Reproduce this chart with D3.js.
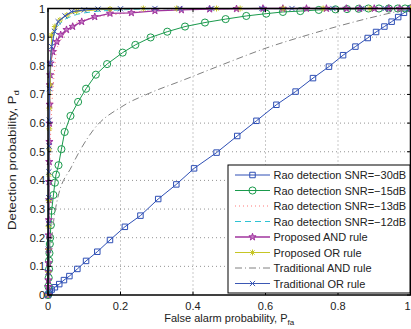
<!DOCTYPE html>
<html>
<head>
<meta charset="utf-8">
<script src="https://cdn.jsdelivr.net/npm/d3@7"></script>
<style>
  html, body { margin: 0; padding: 0; background: #fff; overflow: hidden; }
  text { font-family: "Liberation Sans", Arial, sans-serif; fill: #222; }
</style>
</head>
<body>
<div id="chart"></div>
<script>
// Rao detection SNR=-30dB (squares)
const rao30Pfa = [0, 0.002, 0.005, 0.01, 0.019, 0.031, 0.044, 0.059, 0.081, 0.105, 0.136, 0.171, 0.212, 0.255, 0.304, 0.354, 0.403, 0.465, 0.522, 0.575, 0.630, 0.683, 0.731, 0.775, 0.814, 0.848, 0.882, 0.905, 0.928, 0.948, 0.966, 0.982, 1];
const rao30Pd = [0, 0.005, 0.012, 0.019, 0.027, 0.038, 0.052, 0.066, 0.091, 0.119, 0.151, 0.192, 0.238, 0.277, 0.335, 0.386, 0.442, 0.497, 0.555, 0.608, 0.664, 0.710, 0.757, 0.797, 0.837, 0.867, 0.897, 0.918, 0.937, 0.954, 0.97, 0.985, 1];
// Rao detection SNR=-15dB (circles)
const rao15Pfa = [0, 0.001, 0.002, 0.003, 0.003, 0.004, 0.005, 0.006, 0.008, 0.010, 0.015, 0.019, 0.022, 0.029, 0.037, 0.046, 0.062, 0.083, 0.105, 0.132, 0.163, 0.206, 0.241, 0.283, 0.329, 0.378, 0.433, 0.490, 0.547, 0.602, 0.648, 0.696, 0.747, 0.793, 0.825, 0.857, 0.884, 0.913, 0.94, 0.965, 0.985, 1];
const rao15Pd = [0, 0.03, 0.06, 0.09, 0.12, 0.146, 0.178, 0.2, 0.244, 0.294, 0.349, 0.392, 0.42, 0.453, 0.509, 0.569, 0.625, 0.674, 0.72, 0.769, 0.806, 0.846, 0.873, 0.899, 0.919, 0.937, 0.951, 0.963, 0.974, 0.982, 0.988, 0.991, 0.995, 0.997, 0.998, 0.999, 1, 1, 1, 1, 1, 1];
// Rao detection SNR=-13dB (dotted)
const rao13Pfa = [0, 0.002, 0.005, 0.01, 0.015, 0.024, 0.04, 0.061, 0.116, 0.18, 0.25, 0.4, 0.6, 1];
const rao13Pd = [0, 0.2, 0.45, 0.646, 0.74, 0.855, 0.9, 0.936, 0.966, 0.978, 0.989, 0.997, 1, 1];
// Rao detection SNR=-12dB (dashed)
const rao12Pfa = [0, 0.003, 0.006, 0.01, 0.02, 0.04, 0.07, 0.12, 0.2, 0.3, 1];
const rao12Pd = [0, 0.5, 0.75, 0.85, 0.92, 0.955, 0.975, 0.988, 0.995, 0.999, 1];
// Proposed AND rule (stars)
const andPfa = [0, 0.0005, 0.001, 0.001, 0.0015, 0.002, 0.002, 0.0025, 0.003, 0.003, 0.0035, 0.004, 0.004, 0.0045, 0.005, 0.006, 0.007, 0.013, 0.024, 0.035, 0.051, 0.068, 0.093, 0.129, 0.171, 0.23, 0.295, 0.368, 0.446, 0.52, 0.593, 0.648, 0.713, 0.768, 0.823, 0.86, 0.9, 0.94, 0.97, 1];
const andPd = [0, 0.029, 0.052, 0.081, 0.112, 0.157, 0.209, 0.262, 0.332, 0.395, 0.465, 0.535, 0.599, 0.665, 0.733, 0.768, 0.809, 0.849, 0.884, 0.908, 0.926, 0.937, 0.954, 0.971, 0.983, 0.985, 0.992, 0.995, 0.998, 0.999, 1, 1, 1, 1, 1, 1, 1, 1, 1, 1];
// Proposed OR rule (asterisks)
const orPfa = [0, 0.0005, 0.001, 0.0015, 0.002, 0.0025, 0.003, 0.0035, 0.004, 0.006, 0.01, 0.019, 0.033, 0.052, 0.079, 0.171, 0.263, 0.355, 0.465, 0.53, 0.649, 0.759, 0.888, 1];
const orPd = [0, 0.08, 0.16, 0.24, 0.33, 0.42, 0.51, 0.58, 0.652, 0.733, 0.907, 0.937, 0.96, 0.977, 0.99, 0.998, 1, 1, 1, 1, 1, 1, 1, 1];
// Traditional AND rule (dash-dot)
const tandPfa = [0, 0.005, 0.012, 0.026, 0.065, 0.125, 0.207, 0.281, 0.373, 0.483, 0.602, 0.731, 0.841, 0.93, 1];
const tandPd = [0, 0.12, 0.22, 0.334, 0.448, 0.576, 0.66, 0.705, 0.75, 0.805, 0.862, 0.913, 0.952, 0.98, 1];
// Traditional OR rule (x)
const torPfa = [0, 0.0005, 0.001, 0.0015, 0.002, 0.0025, 0.003, 0.0035, 0.004, 0.006, 0.01, 0.018, 0.028, 0.047, 0.065, 0.1, 0.138, 0.2, 0.295, 0.364, 0.45, 0.59, 0.673, 0.786, 0.866, 0.93, 1];
const torPd = [0, 0.08, 0.16, 0.25, 0.34, 0.43, 0.52, 0.61, 0.72, 0.81, 0.867, 0.92, 0.954, 0.974, 0.989, 0.995, 0.998, 0.999, 1, 1, 1, 1, 1, 1, 1, 1, 1];

const xTicks = [0, 0.2, 0.4, 0.6, 0.8, 1];
const yTicks = [0, 0.1, 0.2, 0.3, 0.4, 0.5, 0.6, 0.7, 0.8, 0.9, 1];

const W = 411, H = 329;
const pLeft = 48, pRight = 410.5, pTop = 8.5, pBottom = 295;

const svg = d3.select('#chart').append('svg')
  .attr('width', W).attr('height', H);

const x = d3.scaleLinear().domain([0, 1]).range([pLeft, pRight]);
const y = d3.scaleLinear().domain([0, 1]).range([pBottom, pTop]);

// dotted grid
const grid = svg.append('g');
grid.selectAll('.gx').data(xTicks.slice(1, -1)).join('line')
  .attr('x1', d => x(d)).attr('x2', d => x(d))
  .attr('y1', pTop).attr('y2', pBottom)
  .attr('stroke', '#777').attr('stroke-width', 0.8).attr('stroke-dasharray', '1,3');
grid.selectAll('.gy').data(yTicks.slice(1, -1)).join('line')
  .attr('y1', d => y(d)).attr('y2', d => y(d))
  .attr('x1', pLeft).attr('x2', pRight)
  .attr('stroke', '#777').attr('stroke-width', 0.8).attr('stroke-dasharray', '1,3');

// marker shapes
const asterisk = s => `M${-s},0L${s},0M0,${-s}L0,${s}M${-s * 0.7},${-s * 0.7}L${s * 0.7},${s * 0.7}M${-s * 0.7},${s * 0.7}L${s * 0.7},${-s * 0.7}`;
const cross = s => `M${-s},${-s}L${s},${s}M${-s},${s}L${s},${-s}`;
const markers = {
  square: () => d3.symbol(d3.symbolSquare, 30)(),
  circle: () => d3.symbol(d3.symbolCircle, 40)(),
  star: () => d3.symbol(d3.symbolStar, 16)(),
  asterisk: () => asterisk(3),
  cross: () => cross(2.6)
};

const series = [
  { name: 'Rao detection SNR=\u221230dB', px: rao30Pfa, py: rao30Pd, color: '#2e4fb5', dash: null, marker: 'square', width: 1 },
  { name: 'Rao detection SNR=\u221215dB', px: rao15Pfa, py: rao15Pd, color: '#1a9a4c', dash: null, marker: 'circle', width: 1 },
  { name: 'Rao detection SNR=\u221213dB', px: rao13Pfa, py: rao13Pd, color: '#ff7a7a', dash: '1,3', marker: null, width: 1 },
  { name: 'Rao detection SNR=\u221212dB', px: rao12Pfa, py: rao12Pd, color: '#2ec3d3', dash: '6,4', marker: null, width: 1 },
  { name: 'Proposed AND rule', px: andPfa, py: andPd, color: '#a0359e', dash: null, marker: 'star', width: 1.3 },
  { name: 'Proposed OR rule', px: orPfa, py: orPd, color: '#c6c625', dash: null, marker: 'asterisk', width: 1 },
  { name: 'Traditional AND rule', px: tandPfa, py: tandPd, color: '#808080', dash: '7,3,1,3', marker: null, width: 1 },
  { name: 'Traditional OR rule', px: torPfa, py: torPd, color: '#3b58b4', dash: null, marker: 'cross', width: 1.1 }
];

const lineStraight = d3.line().x(d => x(d[0])).y(d => y(d[1]));
const lineSmooth = d3.line().x(d => x(d[0])).y(d => y(d[1])).curve(d3.curveMonotoneX);

function drawMarker(sel, s) {
  if (s.marker === 'star') {
    sel.attr('fill', '#c77ac5').attr('stroke', s.color).attr('stroke-width', 1);
  } else {
    sel.attr('fill', 'none').attr('stroke', s.color).attr('stroke-width', 1);
  }
  sel.attr('d', markers[s.marker]());
}

const plot = svg.append('g');
series.forEach(s => {
  const pts = s.px.map((v, i) => [v, s.py[i]]);
  const g = plot.append('g');
  g.append('path').datum(pts)
    .attr('d', s.marker ? lineStraight : lineSmooth)
    .attr('fill', 'none')
    .attr('stroke', s.color)
    .attr('stroke-width', s.width)
    .attr('stroke-dasharray', s.dash);
  if (s.marker) {
    g.selectAll('path.m').data(pts).join('path')
      .attr('class', 'm')
      .attr('transform', d => `translate(${x(d[0])},${y(d[1])})`)
      .call(drawMarker, s);
  }
});

// axes box + inward ticks
const ax = svg.append('g');
ax.append('rect').attr('x', pLeft).attr('y', pTop)
  .attr('width', pRight - pLeft).attr('height', pBottom - pTop)
  .attr('fill', 'none').attr('stroke', '#000').attr('stroke-width', 1.5);
const tl = 3.5;
xTicks.forEach(t => {
  ax.append('line').attr('x1', x(t)).attr('x2', x(t)).attr('y1', pBottom).attr('y2', pBottom - tl).attr('stroke', '#000');
  ax.append('line').attr('x1', x(t)).attr('x2', x(t)).attr('y1', pTop).attr('y2', pTop + tl).attr('stroke', '#000');
});
yTicks.forEach(t => {
  ax.append('line').attr('y1', y(t)).attr('y2', y(t)).attr('x1', pLeft).attr('x2', pLeft + tl).attr('stroke', '#000');
  ax.append('line').attr('y1', y(t)).attr('y2', y(t)).attr('x1', pRight).attr('x2', pRight - tl).attr('stroke', '#000');
});
const fmt = d => String(d);
ax.selectAll('.xl').data(xTicks).join('text')
  .attr('x', d => d === 1 ? W - 0.5 : x(d)).attr('y', 309.5)
  .attr('text-anchor', d => d === 1 ? 'end' : 'middle').attr('font-size', 11)
  .text(fmt);
ax.selectAll('.yl').data(yTicks).join('text')
  .attr('x', 45).attr('y', d => y(d) + 4)
  .attr('text-anchor', 'end').attr('font-size', 11)
  .text(fmt);

// axis titles
const xt = svg.append('text').attr('x', (pLeft + pRight) / 2).attr('y', 322)
  .attr('text-anchor', 'middle').attr('font-size', 11);
xt.append('tspan').text('False alarm probability, P');
xt.append('tspan').attr('font-size', 8).attr('dy', 3).text('fa');

const yt = svg.append('text')
  .attr('transform', 'translate(16,160) rotate(-90) scale(1.2,1)')
  .attr('text-anchor', 'middle').attr('font-size', 11);
yt.append('tspan').text('Detection probability, P');
yt.append('tspan').attr('font-size', 8).attr('dy', 3).text('d');

// legend
const lg = svg.append('g');
const lx = 228, ly = 165, lw = 182, lh = 128;
lg.append('rect').attr('x', lx).attr('y', ly).attr('width', lw).attr('height', lh)
  .attr('fill', '#fff').attr('stroke', '#000').attr('stroke-width', 1);
series.forEach((s, i) => {
  const cy = 175 + i * 15.5;
  lg.append('line').attr('x1', 235).attr('x2', 270).attr('y1', cy).attr('y2', cy)
    .attr('stroke', s.color).attr('stroke-width', s.width).attr('stroke-dasharray', s.dash);
  if (s.marker) {
    lg.append('path').attr('transform', `translate(252.5,${cy})`).call(drawMarker, s);
  }
  lg.append('text').attr('x', 273.5).attr('y', cy + 4).attr('font-size', 11).text(s.name);
});
</script>
</body>
</html>
